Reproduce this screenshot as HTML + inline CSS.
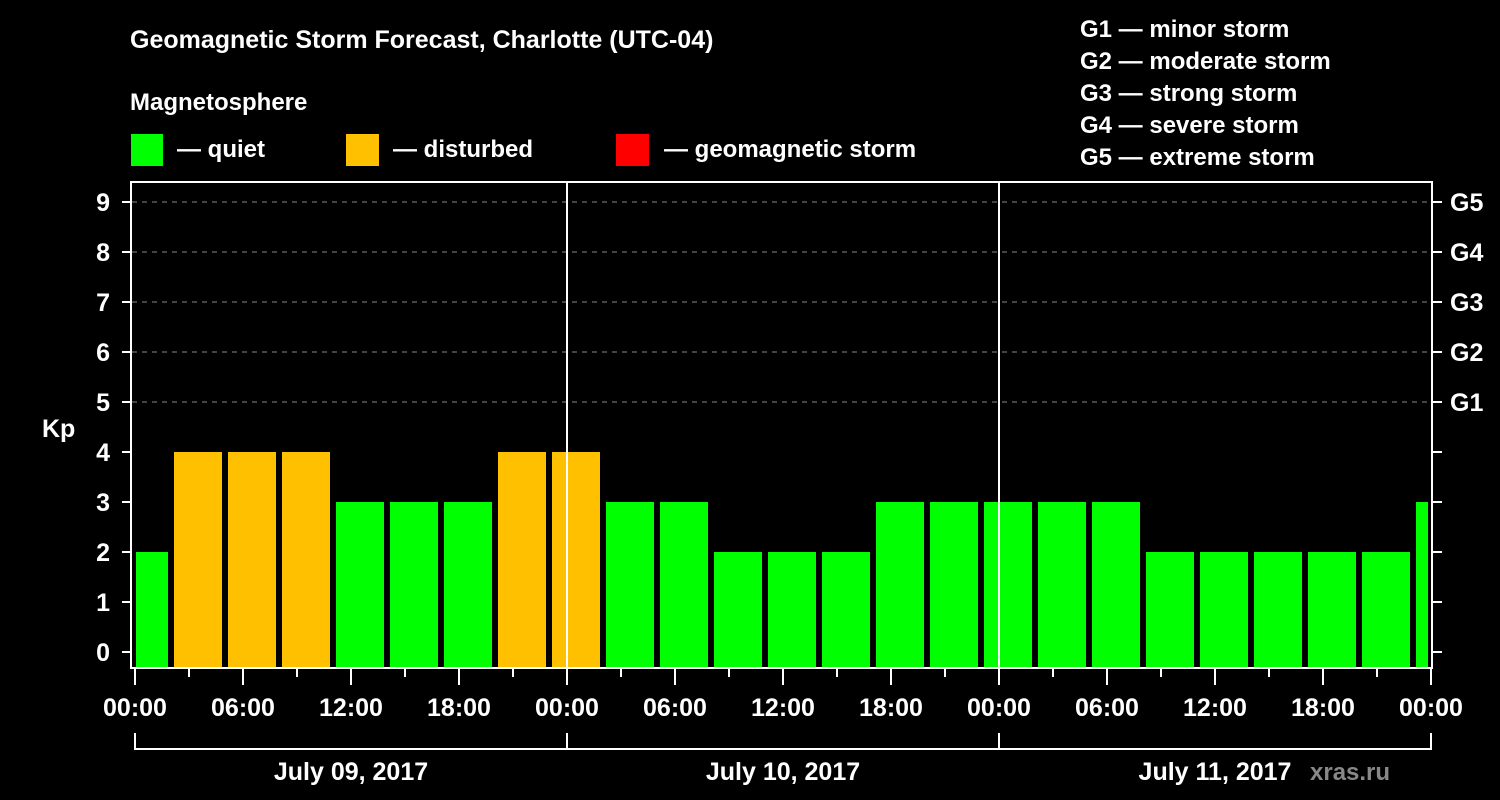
<!DOCTYPE html>
<html><head><meta charset="utf-8"><style>
html,body{margin:0;padding:0;background:#000;}
svg{display:block;font-family:"Liberation Sans",sans-serif;font-weight:bold;}
</style></head><body>
<svg id="chart" width="1500" height="800" viewBox="0 0 1500 800">
<rect width="1500" height="800" fill="#000"/>
<text x="130" y="48" fill="#fff" font-size="25">Geomagnetic Storm Forecast, Charlotte (UTC-04)</text>
<text x="130" y="110" fill="#fff" font-size="24">Magnetosphere</text>
<g><rect x="131" y="134" width="32" height="32" fill="#00ff00"/><text x="177" y="157" fill="#fff" font-size="24">— quiet</text></g>
<g><rect x="346" y="134" width="33" height="32" fill="#ffc000"/><text x="393" y="157" fill="#fff" font-size="24">— disturbed</text></g>
<g><rect x="616" y="134" width="33" height="32" fill="#ff0000"/><text x="664" y="157" fill="#fff" font-size="24">— geomagnetic storm</text></g>
<g fill="#fff" font-size="24">
<text x="1080" y="37">G1 — minor storm</text>
<text x="1080" y="69">G2 — moderate storm</text>
<text x="1080" y="101">G3 — strong storm</text>
<text x="1080" y="133">G4 — severe storm</text>
<text x="1080" y="165">G5 — extreme storm</text>
</g>
<text x="42" y="437" fill="#fff" font-size="25">Kp</text>
<text x="1310" y="780" fill="#888" font-size="24">xras.ru</text>
<defs><clipPath id="pc"><rect x="136" y="182" width="1292" height="486"/></clipPath></defs>
<g id="grid"></g>
<g id="bars" clip-path="url(#pc)"></g>
<g id="axes"></g>
</svg>
<script>
const kpValues=[2,4,4,4,3,3,3,4,4,3,3,2,2,2,3,3,3,3,3,2,2,2,2,2,3];
const yTicks=[0,1,2,3,4,5,6,7,8,9];
const gLabels=["G1","G2","G3","G4","G5"];
const hourLabels=["00:00","06:00","12:00","18:00"];
const dayLabels=["July 09, 2017","July 10, 2017","July 11, 2017"];
const NS="http://www.w3.org/2000/svg";
function y(k){return 652-50*k;}
function x(h){return 135+18*h;}
function mk(t,a,p,txt){const e=document.createElementNS(NS,t);for(const k in a)e.setAttribute(k,a[k]);if(txt!==undefined)e.textContent=txt;p.appendChild(e);return e;}
const grid=document.getElementById('grid'),bars=document.getElementById('bars'),axes=document.getElementById('axes');
for(let k=5;k<=9;k++){const l=mk('line',{x1:132,x2:1431,y1:y(k),y2:y(k),stroke:'#888','stroke-width':1,'stroke-dasharray':'5,5'},grid);

}
kpValues.forEach((v,i)=>{const c=v>=5?'#ff0000':(v>=4?'#ffc000':'#00ff00');
const r=mk('rect',{x:x(3*i)-15,y:y(v),width:48,height:667-y(v),fill:c},bars);

});
// frame
mk('rect',{x:131,y:182,width:1301,height:486,fill:'none',stroke:'#fff','stroke-width':2},axes);
[1,2].forEach(d=>{mk('line',{x1:x(24*d),x2:x(24*d),y1:182,y2:668,stroke:'#fff','stroke-width':2},axes);});
yTicks.forEach(k=>{mk('line',{x1:122,x2:131,y1:y(k),y2:y(k),stroke:'#fff','stroke-width':2},axes);
mk('line',{x1:1432,x2:1442,y1:y(k),y2:y(k),stroke:'#fff','stroke-width':2},axes);
const t=mk('text',{x:110,y:y(k)+9,fill:'#fff','font-size':25,'text-anchor':'end'},axes,String(k));

});
gLabels.forEach((g,i)=>{const t=mk('text',{x:1450,y:y(5+i)+9,fill:'#fff','font-size':25},axes,g);

});
for(let h=0;h<=72;h+=3){const big=h%6===0;mk('line',{x1:x(h),x2:x(h),y1:669,y2:big?685:677,stroke:'#fff','stroke-width':2},axes);
if(big){const t=mk('text',{x:x(h),y:716,fill:'#fff','font-size':25,'text-anchor':'middle'},axes,hourLabels[(h/6)%4]);

}}
mk('line',{x1:135,x2:1431,y1:749,y2:749,stroke:'#fff','stroke-width':2},axes);
for(let d=0;d<=3;d++)mk('line',{x1:x(24*d),x2:x(24*d),y1:733,y2:750,stroke:'#fff','stroke-width':2},axes);
dayLabels.forEach((s,d)=>{const t=mk('text',{x:x(24*d+12),y:780,fill:'#fff','font-size':25,'text-anchor':'middle'},axes,s);

});
</script>
</body></html>
